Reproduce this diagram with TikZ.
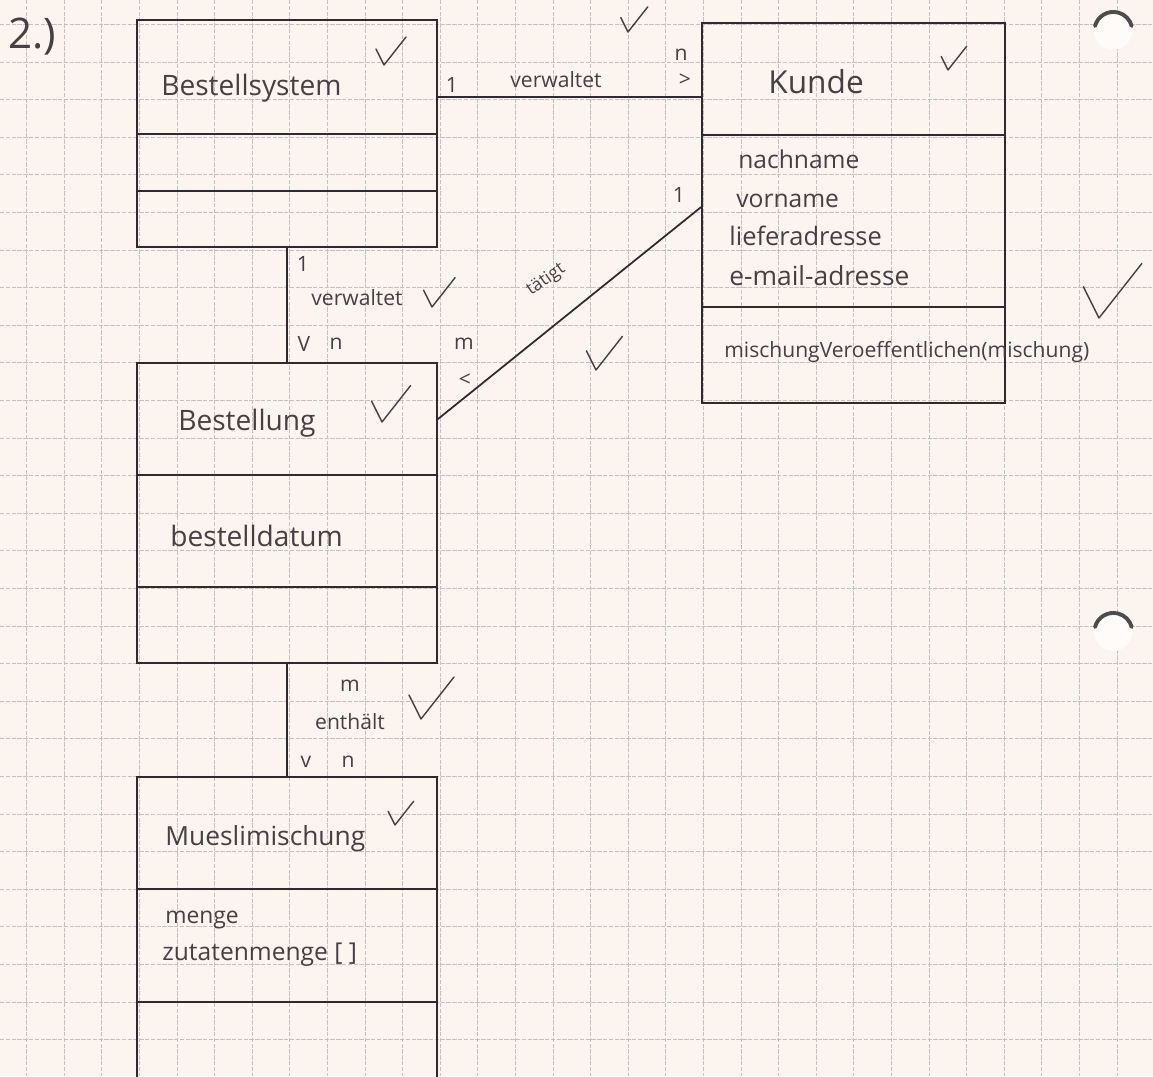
\documentclass[tikz,border=0pt]{standalone}
\usepackage{fontspec}
\setmainfont{Open Sans}
\usetikzlibrary{calc}
\definecolor{paper}{RGB}{252,244,239}
\definecolor{gridc}{RGB}{200,192,192}
\definecolor{ink}{RGB}{45,43,45}
\definecolor{pencil}{RGB}{68,64,68}
\tikzset{
  classbox/.style={draw=ink, line width=1.1pt, minimum width=6cm, inner sep=0pt},
  divider/.style={draw=ink, line width=1.1pt},
  conn/.style={draw=ink, line width=1pt},
  txt/.style={text=pencil, inner sep=0pt, anchor=base west},
  fs/.style={font=\fontsize{#1}{#1}\selectfont},
  lbl/.style={text=pencil, inner sep=0pt, font=\fontsize{12}{14}\selectfont},
  gridline/.style={gridc, line width=0.5pt, dash pattern=on 2.5pt off 0.8pt},
  checkline/.style={draw=pencil, line width=0.8pt, line cap=round, line join=round},
  checkmark/.pic={\draw[checkline] (-8,-16) -- (0,0) -- (22,-28);},
  holeline/.style={draw=black!70, line width=2.2pt, line cap=round}
}
\begin{document}
\begin{tikzpicture}[x=0.02cm,y=-0.02cm]
\clip (0,0) rectangle (1153,1076);
\fill[paper] (0,0) rectangle (1153,1076);
% grid paper
\foreach \k in {0,...,30} \draw[gridline] ({26.6+37.6*\k},0) -- ({26.6+37.6*\k},1076);
\foreach \k in {0,...,28} \draw[gridline] (0,{24.4+37.6*\k}) -- (1153,{24.4+37.6*\k});
% punch holes
\fill[white!60!paper] (1113,31) circle[radius=0.38cm];
\draw[holeline] (1095,26) arc[start angle=165, end angle=15, radius=0.38cm];
\fill[white!60!paper] (1113,632) circle[radius=0.38cm];
\draw[holeline] (1095,627) arc[start angle=165, end angle=15, radius=0.38cm];

% exercise number
\node[txt, fs=24] (nr) at (8,48) {2.)};

% class boxes
\node[classbox, minimum height=4.54cm] (bs) at (287,133.5) {};
\node[classbox, minimum width=6.06cm, minimum height=7.6cm] (ku) at (853.5,213) {};
\node[classbox, minimum height=6cm] (be) at (287,513) {};
\node[classbox, minimum height=6.9cm] (mu) at (287,949.5) {};

% compartments
\draw[divider] ($(bs.north west)+(0,115)$) -- ($(bs.north east)+(0,115)$);
\draw[divider] ($(bs.north west)+(0,172)$) -- ($(bs.north east)+(0,172)$);
\draw[divider] ($(ku.north west)+(0,113)$) -- ($(ku.north east)+(0,113)$);
\draw[divider] ($(ku.north west)+(0,285)$) -- ($(ku.north east)+(0,285)$);
\draw[divider] ($(be.north west)+(0,113)$) -- ($(be.north east)+(0,113)$);
\draw[divider] ($(be.north west)+(0,225)$) -- ($(be.north east)+(0,225)$);
\draw[divider] ($(mu.north west)+(0,113)$) -- ($(mu.north east)+(0,113)$);
\draw[divider] ($(mu.north west)+(0,226)$) -- ($(mu.north east)+(0,226)$);

% class texts
\node[txt, fs=16] (bst) at (161,95) {Bestellsystem};
\node[txt, fs=18] (kut) at (768,93) {Kunde};
\node[txt, fs=14] (ka1) at (738,168) {nachname};
\node[txt, fs=14] (ka2) at (736,207) {vorname};
\node[txt, fs=14.5] (ka3) at (729,245) {lieferadresse};
\node[txt, fs=15] (ka4) at (729,285) {e-mail-adresse};
\node[txt, fs=12] (km1) at (724,357) {mischungVeroeffentlichen(mischung)};
\node[txt, fs=16] (bet) at (178,430) {Bestellung};
\node[txt, fs=16] (bea1) at (170,546) {bestelldatum};
\node[txt, fs=15] (mut) at (165,845) {Mueslimischung};
\node[txt, fs=13] (mua1) at (165,923) {menge};
\node[txt, fs=14] (mua2) at (162,960) {zutatenmenge [ ]};

% connectors
\coordinate (a1) at ($(bs.north east)+(0,78)$);
\draw[conn] (a1) -- (ku.west |- a1);
\draw[conn] (bs.south) -- (be.north);
\coordinate (a3) at ($(be.north east)+(0,57)$);
\coordinate (b3) at ($(ku.north west)+(0,185)$);
\draw[conn] (a3) -- (b3);
\draw[conn] (be.south) -- (mu.north);

% labels: Bestellsystem - Kunde
\node[lbl] (l1a) at (452,85) {1};
\node[lbl] (l1b) at (556,80) {verwaltet};
\node[lbl] (l1c) at (681,55) {n};
\node[lbl] (l1d) at (685,80) {>};
% labels: Bestellsystem - Bestellung
\node[lbl] (l2a) at (303,264) {1};
\node[lbl] (l2b) at (357,298) {verwaltet};
\node[lbl] (l2c) at (304,344) {V};
\node[lbl] (l2d) at (336,344) {n};
% labels: Bestellung - Kunde
\node[lbl] (l3a) at (679,195) {1};
\node[lbl, fs=10, rotate=35] (l3b) at (546,280) {tätigt};
\node[lbl] (l3c) at (464,344) {m};
\node[lbl] (l3d) at (465,380) {<};
% labels: Bestellung - Mueslimischung
\node[lbl] (l4a) at (350,686) {m};
\node[lbl] (l4b) at (350,722) {enthält};
\node[lbl] (l4c) at (306,762) {v};
\node[lbl] (l4d) at (348,762) {n};

% check marks
\pic at (384,65) {checkmark};
\pic[scale=0.9] at (628,32) {checkmark};
\pic[scale=0.85] at (948,70) {checkmark};
\pic[scale=1.05] at (432,307) {checkmark};
\pic[scale=1.2] at (596,370) {checkmark};
\pic[scale=1.3] at (382,422) {checkmark};
\pic[scale=1.95] at (1099,318) {checkmark};
\pic[scale=1.5] at (421,719) {checkmark};
\pic[scale=0.85] at (395,825) {checkmark};
\end{tikzpicture}
\end{document}
